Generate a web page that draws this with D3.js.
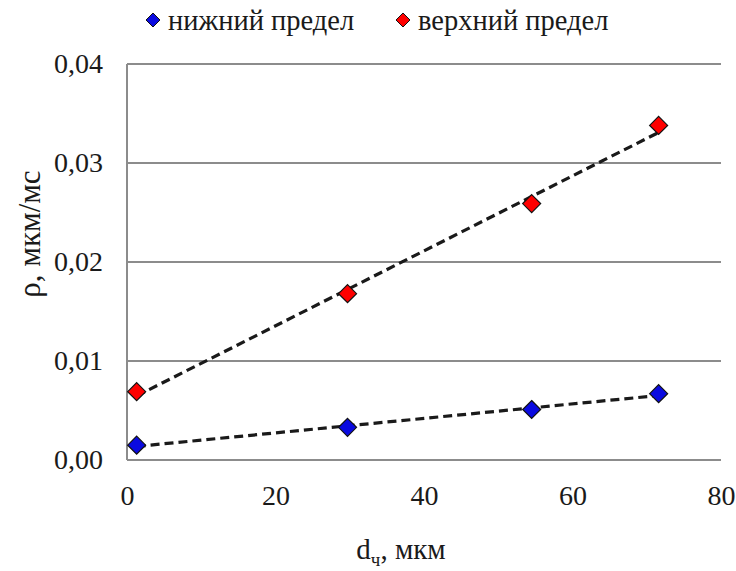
<!DOCTYPE html>
<html>
<head>
<meta charset="utf-8">
<script src="https://cdn.jsdelivr.net/npm/d3@7"></script>
</head>
<body style="margin:0">
<svg id="s" width="736" height="571"></svg>
<script>
// ---- data ----
const xValues = [1.3, 29.7, 54.5, 71.6];
const lowerValues = [0.0015, 0.0033, 0.0051, 0.0067];
const upperValues = [0.0069, 0.0168, 0.0259, 0.0338];
const seriesNames = ["нижний предел", "верхний предел"];
const seriesColors = ["#0a0ae0", "#ff0000"];
const xTicks = [0, 20, 40, 60, 80];
const yTicks = [0, 0.01, 0.02, 0.03, 0.04];
const xTitle = "d";
const xTitleSub = "ч";
const xTitleRest = ", мкм";
const yTitle = "ρ, мкм/мс";

const FONT = "Liberation Serif";
const TXT = "#1a1a1a";
const svg = d3.select("#s");
const W = 736, H = 571;
const m = { left: 127, right: 736 - 721, top: 64, bottom: 571 - 460 };

const x = d3.scaleLinear().domain([0, 80]).range([m.left, W - m.right]);
const y = d3.scaleLinear().domain([0, 0.04]).range([H - m.bottom, m.top]);

const fmtY = v => d3.format(".2f")(v).replace(".", ",");

function styleText(sel, size) {
  return sel.attr("font-family", FONT).attr("font-size", size).attr("fill", TXT)
    .style("font-family", `"${FONT}"`).style("font-size", size + "px");
}

// gridlines
svg.append("g").selectAll("line").data(yTicks).join("line")
  .attr("x1", x(0)).attr("x2", x(80))
  .attr("y1", d => y(d)).attr("y2", d => y(d))
  .attr("stroke", "#8c8c8c").attr("stroke-width", 2);

// y axis line
svg.append("line")
  .attr("x1", x(0)).attr("x2", x(0))
  .attr("y1", y(0)).attr("y2", y(0.04))
  .attr("stroke", "#8c8c8c").attr("stroke-width", 2);

// axes via d3 (ticks hidden, labels only)
const yAxis = d3.axisLeft(y).tickValues(yTicks).tickFormat(fmtY).tickSize(0).tickPadding(24);
const gy = svg.append("g").attr("transform", `translate(${x(0)},0)`).call(yAxis);
gy.attr("font-family", FONT).attr("font-size", 28);
gy.select(".domain").remove();
styleText(gy.selectAll("text"), 28);

const xAxis = d3.axisBottom(x).tickValues(xTicks).tickFormat(d3.format("d")).tickSize(0).tickPadding(25);
const gx = svg.append("g").attr("transform", `translate(0,${y(0)})`).call(xAxis);
gx.attr("font-family", FONT).attr("font-size", 28);
gx.select(".domain").remove();
styleText(gx.selectAll("text"), 28);

// trendlines (least squares fit of each series)
function fit(xs, ys) {
  const n = xs.length;
  const mx = d3.mean(xs), my = d3.mean(ys);
  let sxy = 0, sxx = 0;
  for (let i = 0; i < n; i++) { sxy += (xs[i] - mx) * (ys[i] - my); sxx += (xs[i] - mx) ** 2; }
  const b = sxy / sxx, a = my - b * mx;
  return v => a + b * v;
}
const series = [lowerValues, upperValues];
series.forEach(vals => {
  const f = fit(xValues, vals);
  const x0 = d3.min(xValues), x1 = d3.max(xValues);
  svg.append("line")
    .attr("x1", x(x0)).attr("y1", y(f(x0)))
    .attr("x2", x(x1)).attr("y2", y(f(x1)))
    .attr("stroke", "#1a1a1a").attr("stroke-width", 3.2)
    .attr("stroke-dasharray", "9,5");
});

// markers
function diamondPath(s) { return `M0,${-s}L${s},0L0,${s}L${-s},0Z`; }
series.forEach((vals, si) => {
  svg.append("g").selectAll("path").data(vals).join("path")
    .attr("transform", (d, i) => `translate(${x(xValues[i])},${y(d)})`)
    .attr("d", diamondPath(9))
    .attr("fill", seriesColors[si])
    .attr("stroke", "#111").attr("stroke-width", 1.2);
});

// legend
const legend = svg.append("g");
const legendItems = [
  { name: seriesNames[0], color: seriesColors[0], mx: 153, tx: 168 },
  { name: seriesNames[1], color: seriesColors[1], mx: 403, tx: 418 }
];
legendItems.forEach(it => {
  legend.append("path").attr("transform", `translate(${it.mx},20)`)
    .attr("d", diamondPath(7)).attr("fill", it.color).attr("stroke", "#111").attr("stroke-width", 1);
  styleText(legend.append("text").attr("x", it.tx).attr("y", 20).attr("dy", "0.35em"), 28.5).text(it.name);
});

// x title
const xt = styleText(svg.append("text").attr("x", 401).attr("y", 549).attr("dy", "0.35em")
  .attr("text-anchor", "middle"), 29);
xt.append("tspan").text(xTitle);
xt.append("tspan").attr("font-size", 19).style("font-size", "19px").attr("dy", "0.35em").text(xTitleSub);
xt.append("tspan").attr("dy", "-0.25em").text(xTitleRest);

// y title
styleText(svg.append("text")
  .attr("transform", `translate(29,234) rotate(-90)`)
  .attr("text-anchor", "middle").attr("dy", "0.35em"), 31)
  .text(yTitle);
</script>
</body>
</html>
